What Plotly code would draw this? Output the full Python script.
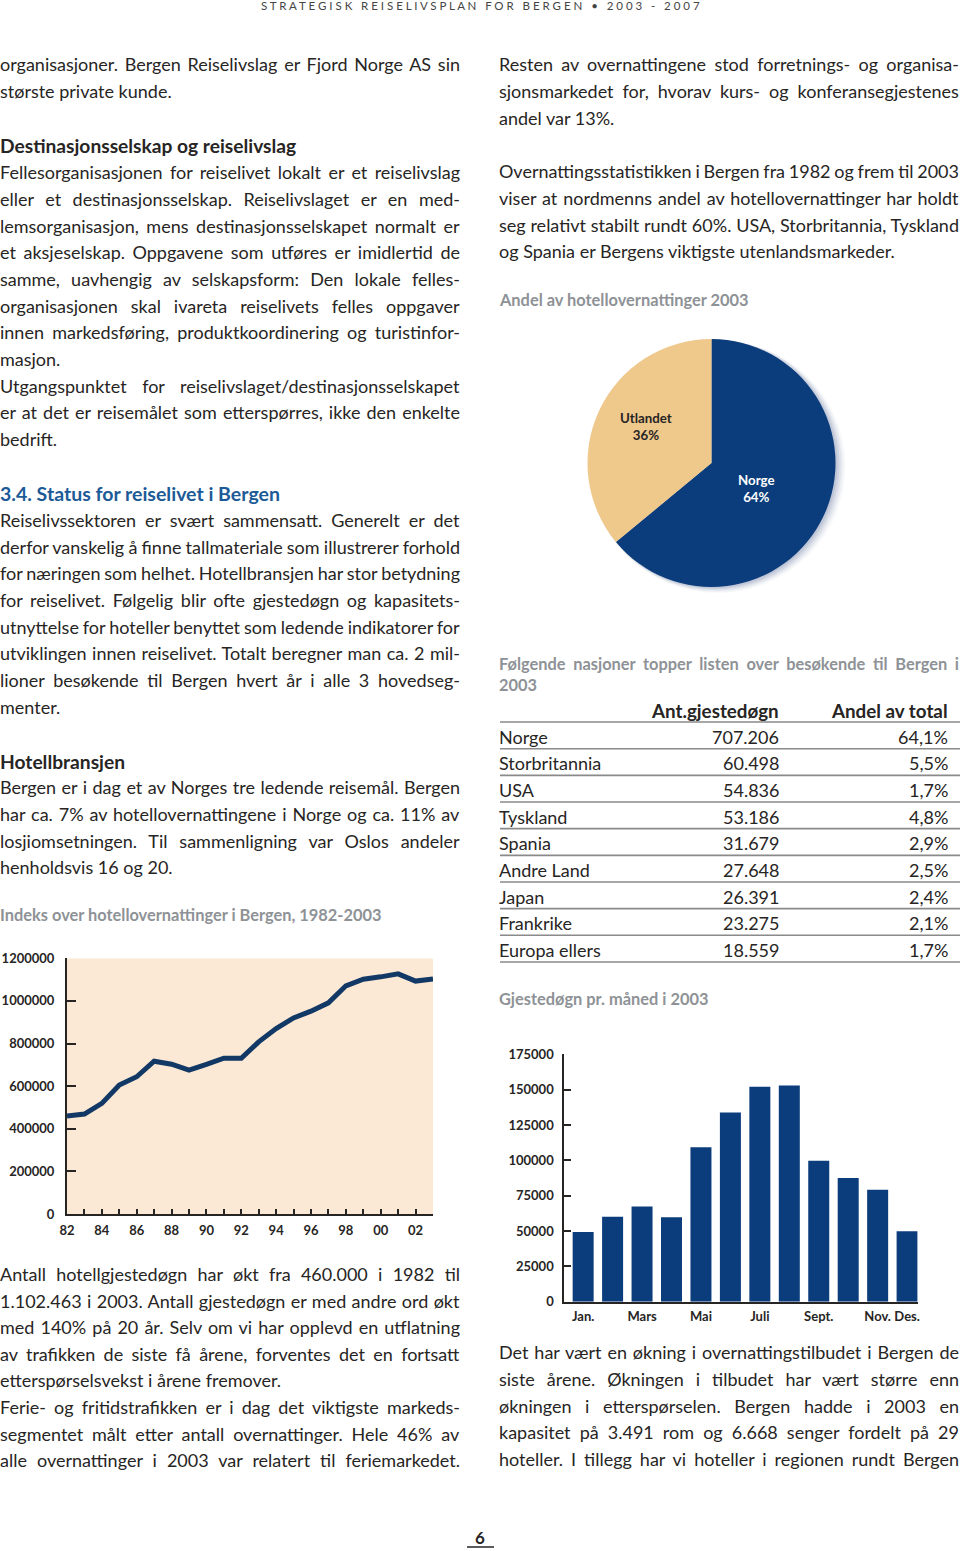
import json
import plotly.graph_objects as go

W, H = 960, 1551
FONT = "Lato"
TXT = "#272524"
GRAY = "#8E9296"
BLUE = "#1C5B97"
NAVY = "#0B3C7B"
LINEC = "#123966"
BODY = 18.0

# ---------------- data ----------------
years = list(range(1982, 2004))
overnight_index = [460000, 469000, 519000, 605000, 644000, 717000, 703000, 675000,
                   702000, 731000, 731000, 808000, 870000, 920000, 952000, 991000,
                   1071000, 1102000, 1113000, 1127000, 1093000, 1102463]
year_labels = ["82", "84", "86", "88", "90", "92", "94", "96", "98", "00", "02"]

months = ["Jan.", "Feb.", "Mars", "April", "Mai", "Juni", "Juli", "Aug.",
          "Sept.", "Okt.", "Nov.", "Des."]
month_nights = [49300, 60100, 67400, 59700, 109200, 133900, 152100, 153000,
                99700, 87500, 79200, 49800]
month_ticks_shown = [0, 2, 4, 6, 8, 10, 11]

pie_labels = ["Norge", "Utlandet"]
pie_values = [64, 36]
pie_colors = ["#0B3C7B", "#EFC88C"]

countries = ["Norge", "Storbritannia", "USA", "Tyskland", "Spania", "Andre Land",
             "Japan", "Frankrike", "Europa ellers"]
guest_nights = [707206, 60498, 54836, 53186, 31679, 27648, 26391, 23275, 18559]
share_total = [64.1, 5.5, 1.7, 4.8, 2.9, 2.5, 2.4, 2.1, 1.7]
table_header = ["Ant.gjestedøgn", "Andel av total"]

# ---------------- page text ----------------
# kinds: j = justified body line, n = body line (paragraph end), h = heading,
#        b = blue heading, c = grey caption, cj = justified grey caption
left_blocks = [
    (64, "organisasjoner. Bergen Reiselivslag er Fjord Norge AS sin", "j"),
    (91, "største private kunde.", "n"),
    (145, "Destinasjonsselskap og reiselivslag", "h"),
    (172, "Fellesorganisasjonen for reiselivet lokalt er et reiselivslag", "j"),
    (199, "eller et destinasjonsselskap. Reiselivslaget er en med-", "j"),
    (226, "lemsorganisasjon, mens destinasjonsselskapet normalt er", "j"),
    (252, "et aksjeselskap. Oppgavene som utføres er imidlertid de", "j"),
    (279, "samme, uavhengig av selskapsform: Den lokale felles-", "j"),
    (306, "organisasjonen skal ivareta reiselivets felles oppgaver", "j"),
    (332, "innen markedsføring, produktkoordinering og turistinfor-", "j"),
    (359, "masjon.", "n"),
    (386, "Utgangspunktet for reiselivslaget/destinasjonsselskapet", "j"),
    (412, "er at det er reisemålet som etterspørres, ikke den enkelte", "j"),
    (439, "bedrift.", "n"),
    (493, "3.4. Status for reiselivet i Bergen", "b"),
    (520, "Reiselivssektoren er svært sammensatt. Generelt er det", "j"),
    (547, "derfor vanskelig å finne tallmateriale som illustrerer forhold", "j"),
    (573, "for næringen som helhet. Hotellbransjen har stor betydning", "j"),
    (600, "for reiselivet. Følgelig blir ofte gjestedøgn og kapasitets-", "j"),
    (627, "utnyttelse for hoteller benyttet som ledende indikatorer for", "j"),
    (653, "utviklingen innen reiselivet. Totalt beregner man ca. 2 mil-", "j"),
    (680, "lioner besøkende til Bergen hvert år i alle 3 hovedseg-", "j"),
    (707, "menter.", "n"),
    (761, "Hotellbransjen", "h"),
    (787, "Bergen er i dag et av Norges tre ledende reisemål. Bergen", "j"),
    (814, "har ca. 7% av hotellovernattingene i Norge og ca. 11% av", "j"),
    (841, "losjiomsetningen. Til sammenligning var Oslos andeler", "j"),
    (867, "henholdsvis 16 og 20.", "n"),
    (915, "Indeks over hotellovernattinger i Bergen, 1982-2003", "c"),
    (1274, "Antall hotellgjestedøgn har økt fra 460.000 i 1982 til", "j"),
    (1301, "1.102.463 i 2003. Antall gjestedøgn er med andre ord økt", "j"),
    (1327, "med 140% på 20 år. Selv om vi har opplevd en utflatning", "j"),
    (1354, "av trafikken de siste få årene, forventes det en fortsatt", "j"),
    (1380, "etterspørselsvekst i årene fremover.", "n"),
    (1407, "Ferie- og fritidstrafikken er i dag det viktigste markeds-", "j"),
    (1434, "segmentet målt etter antall overnattinger. Hele 46% av", "j"),
    (1460, "alle overnattinger i 2003 var relatert til feriemarkedet.", "j"),
]
right_blocks = [
    (64, "Resten av overnattingene stod forretnings- og organisa-", "j"),
    (91, "sjonsmarkedet for, hvorav kurs- og konferansegjestenes", "j"),
    (118, "andel var 13%.", "n"),
    (171, "Overnattingsstatistikken i Bergen fra 1982 og frem til 2003", "j"),
    (198, "viser at nordmenns andel av hotellovernattinger har holdt", "j"),
    (225, "seg relativt stabilt rundt 60%. USA, Storbritannia, Tyskland", "j"),
    (251, "og Spania er Bergens viktigste utenlandsmarkeder.", "n"),
    (299, "Andel av hotellovernattinger 2003", "c"),
    (664, "Følgende nasjoner topper listen over besøkende til Bergen i", "cj"),
    (684, "2003", "c"),
    (998, "Gjestedøgn pr. måned i 2003", "c"),
    (1352, "Det har vært en økning i overnattingstilbudet i Bergen de", "j"),
    (1379, "siste årene. Økningen i tilbudet har vært større enn", "j"),
    (1406, "økningen i etterspørselen. Bergen hadde i 2003 en", "j"),
    (1432, "kapasitet på 3.491 rom og 6.668 senger fordelt på 29", "j"),
    (1459, "hoteller. I tillegg har vi hoteller i regionen rundt Bergen", "j"),
]


def px(x):
    return x / W


def py(y):
    return 1 - y / H


fig = go.Figure()

# ---------------- line chart ----------------
fig.add_trace(go.Scatter(x=years, y=overnight_index, mode="lines",
                         line=dict(color=LINEC, width=5), xaxis="x", yaxis="y",
                         showlegend=False, hoverinfo="x+y"))

# ---------------- bar chart ----------------
fig.add_trace(go.Bar(x=list(range(len(months))), y=month_nights, marker_color=NAVY,
                     marker_line_width=0, xaxis="x2", yaxis="y2", showlegend=False,
                     hovertext=months))

# ---------------- pie ----------------
fig.add_trace(go.Pie(labels=pie_labels, values=pie_values, sort=False,
                     direction="clockwise", rotation=0,
                     marker=dict(colors=pie_colors, line=dict(width=0)),
                     textinfo="none", hoverinfo="label+percent", showlegend=False,
                     domain=dict(x=[px(587.5), px(835.5)], y=[py(587), py(339)])))

# invisible trace to create the table axes
fig.add_trace(go.Scatter(x=[500], y=[0], mode="markers", marker=dict(opacity=0),
                         xaxis="x3", yaxis="y3", showlegend=False, hoverinfo="skip"))

tickfont = dict(family=FONT, size=13, color=TXT, weight="bold")
common = dict(showgrid=False, zeroline=False, automargin=False, fixedrange=True)
fig.update_layout(
    width=W, height=H, autosize=False,
    margin=dict(l=0, r=0, t=0, b=0, pad=0, autoexpand=False),
    paper_bgcolor="white", plot_bgcolor="rgba(0,0,0,0)",
    xaxis=dict(domain=[px(67), px(433)], range=[1982, 2003], anchor="y",
               showline=True, linecolor=TXT, linewidth=2,
               ticks="inside", ticklen=5, tickwidth=2, tickcolor=TXT,
               tickvals=years,
               ticktext=[year_labels[(y - 1982) // 2] if (y - 1982) % 2 == 0 else "" for y in years],
               tickfont=tickfont, ticklabelstandoff=3, **common),
    yaxis=dict(domain=[py(1214), py(958.3)], range=[0, 1200000], anchor="x",
               showline=True, linecolor=TXT, linewidth=2,
               ticks="inside", ticklen=9, tickwidth=2, tickcolor=TXT,
               dtick=200000, tickformat="d", tickfont=tickfont,
               ticklabelstandoff=8, **common),
    xaxis2=dict(domain=[px(564.3), px(917.7)], range=[-0.64, 11.36], anchor="y2",
                showline=True, linecolor=TXT, linewidth=2,
                ticks="", tickvals=month_ticks_shown,
                ticktext=[months[i] for i in month_ticks_shown],
                tickfont=tickfont, ticklabelstandoff=2, **common),
    yaxis2=dict(domain=[py(1301.7), py(1054.3)], range=[0, 175000], anchor="x2",
                showline=True, linecolor=TXT, linewidth=2,
                ticks="inside", ticklen=7, tickwidth=2, tickcolor=TXT,
                dtick=25000, tickformat="d", tickfont=tickfont,
                ticklabelstandoff=6, **common),
    bargap=0.287,
    xaxis3=dict(domain=[px(480), 1.0], range=[480, 960], anchor="y3", visible=False,
                **common),
    yaxis3=dict(domain=[py(963.3), py(696.7)], range=[9.5, -0.5], anchor="x3",
                visible=False, **common),
)

shapes = []
# beige background of line chart
shapes.append(dict(type="rect", xref="x", yref="y", x0=1982, x1=2003, y0=0, y1=1200000,
                   fillcolor="#FCE9D5", line=dict(width=0), layer="below"))
# soft shadow behind the pie
cx, cy, r = 711.5, 463, 124
for k, a in [(10, 0.04), (8, 0.06), (6, 0.08), (4, 0.10), (2, 0.12)]:
    shapes.append(dict(type="circle", xref="paper", yref="paper",
                       x0=px(cx - r + 2), x1=px(cx + r + k), y0=py(cy + r + k * 0.6),
                       y1=py(cy - r + 1), fillcolor="rgba(70,90,140,%.2f)" % a,
                       line=dict(width=0), layer="below"))
# table rules
for i in range(len(countries) + 1):
    shapes.append(dict(type="line", xref="x3", yref="y3", x0=500, x1=960,
                       y0=i + 0.45, y1=i + 0.45, line=dict(color="#8A8A8A", width=1.6)))
# page number underline
shapes.append(dict(type="line", xref="paper", yref="paper", x0=px(467), x1=px(494),
                   y0=py(1547), y1=py(1547), line=dict(color=TXT, width=1.5)))

ann = []
justify = []  # (annotation index, right edge px)


def text_line(x, y, s, kind, right):
    style = {"j": dict(size=BODY, color=TXT, weight="normal"),
             "n": dict(size=BODY, color=TXT, weight="normal"),
             "h": dict(size=19.2, color=TXT, weight="bold"),
             "b": dict(size=19.5, color=BLUE, weight="bold"),
             "c": dict(size=16.4, color=GRAY, weight="bold"),
             "cj": dict(size=16.4, color=GRAY, weight="bold")}[kind]
    if kind in ("j", "cj"):
        justify.append((len(ann), right))
    ann.append(dict(xref="paper", yref="paper", x=px(x), y=py(y), text=s,
                    showarrow=False, xanchor="left", yanchor="middle", xshift=-2,
                    font=dict(family=FONT, **style)))


for y, s, k in left_blocks:
    text_line(0, y, s, k, 460)
for y, s, k in right_blocks:
    text_line(499, y, s, k, 959)

# header
header = "STRATEGISK REISELIVSPLAN FOR BERGEN • 2003 - 2007"
ann.append(dict(xref="paper", yref="paper", x=px(480.5), y=py(6), text=" ".join(header),
                showarrow=False, xanchor="center", yanchor="middle",
                font=dict(family=FONT, size=11.5, color="#444444")))
# page number
ann.append(dict(xref="paper", yref="paper", x=px(480), y=py(1537), text="6",
                showarrow=False, xanchor="center", yanchor="middle",
                font=dict(family=FONT, size=17, color=TXT, weight="bold")))

# pie labels
pie_total = sum(pie_values)
pie_label_pos = {"Utlandet": (646, 426, TXT), "Norge": (756, 488, "white")}
for lab, v in zip(pie_labels, pie_values):
    lx, ly, col = pie_label_pos[lab]
    ann.append(dict(xref="paper", yref="paper", x=px(lx), y=py(ly),
                    text="%s<br>%d%%" % (lab, round(100 * v / pie_total)),
                    showarrow=False, xanchor="center", yanchor="middle",
                    font=dict(family=FONT, size=13.3, color=col, weight="bold")))


# table
def fmt_int(v):
    return f"{v:,}".replace(",", ".")


hf = dict(family=FONT, size=18.8, color=TXT, weight="bold")
ann.append(dict(xref="x3", yref="y3", x=779, y=0, text=table_header[0], showarrow=False,
                xanchor="right", yanchor="middle", xshift=2, font=hf))
ann.append(dict(xref="x3", yref="y3", x=948, y=0, text=table_header[1], showarrow=False,
                xanchor="right", yanchor="middle", xshift=2, font=hf))
for i, (c, g, s) in enumerate(zip(countries, guest_nights, share_total), start=1):
    f = dict(family=FONT, size=BODY, color=TXT)
    ann.append(dict(xref="x3", yref="y3", x=499, y=i, text=c, showarrow=False,
                    xanchor="left", yanchor="middle", xshift=-2, font=f))
    ann.append(dict(xref="x3", yref="y3", x=779, y=i, text=fmt_int(g), showarrow=False,
                    xanchor="right", yanchor="middle", xshift=2, font=f))
    ann.append(dict(xref="x3", yref="y3", x=948, y=i,
                    text=f"{s:.1f}".replace(".", ",") + "%", showarrow=False,
                    xanchor="right", yanchor="middle", xshift=2, font=f))

fig.update_layout(shapes=shapes, annotations=ann)

# justify body lines (word spacing), keeping each line's left edge in place
post = """
document.body.style.margin='0';
(function(){
  var J = __J__;
  var gd = document.getElementById('{plot_id}');
  function run(){
    var gr = gd.getBoundingClientRect();
    J.forEach(function(p){
      var el = gd.querySelector('g.annotation[data-index="'+p[0]+'"] text.annotation-text');
      if(!el) return;
      var nodes = [el].concat(Array.prototype.slice.call(el.querySelectorAll('tspan[x]')));
      nodes.forEach(function(nd){
        if(nd.getAttribute('data-x0') === null) nd.setAttribute('data-x0', nd.getAttribute('x') || '0');
        nd.setAttribute('x', nd.getAttribute('data-x0'));
      });
      el.style.wordSpacing = '0px';
      var r = el.getBoundingClientRect();
      var n = (el.textContent.match(/ /g)||[]).length;
      if(!n) return;
      var extra = (p[1] - (r.right - gr.left))/n;
      if (!(extra > -3 && extra < 25)) return;
      el.style.wordSpacing = extra + 'px';
      var r2 = el.getBoundingClientRect();
      var dx = r.left - r2.left;
      nodes.forEach(function(nd){
        nd.setAttribute('x', parseFloat(nd.getAttribute('data-x0')) + dx);
      });
    });
  }
  run();
  if (gd.on) gd.on('plotly_afterplot', run);
})();
""".replace("__J__", json.dumps(justify))

fig.write_html("out.html", config={"displayModeBar": False}, post_script=post)
